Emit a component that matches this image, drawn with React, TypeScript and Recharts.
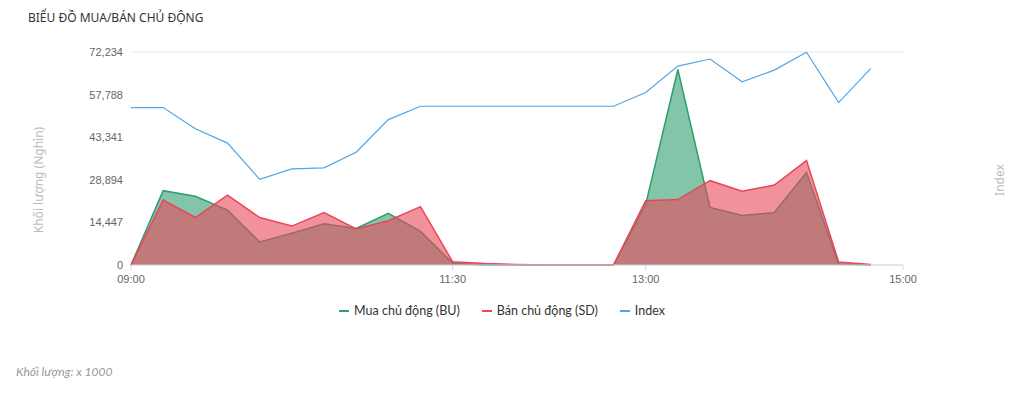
import { Area, CartesianGrid, ComposedChart, Legend, Line, XAxis, YAxis } from "recharts";

const times = [
  "09:00", "09:15", "09:30", "09:45", "10:00", "10:15", "10:30", "10:45",
  "11:00", "11:15", "11:30", "11:45", "12:00", "12:15", "12:30", "12:45",
  "13:00", "13:15", "13:30", "13:45", "14:00", "14:15", "14:30", "14:45",
];
const buyVolume = [
  0, 25200, 23300, 18600, 7800, 10800, 14000, 12400,
  17500, 11400, 600, 0, 0, 0, 0, 0,
  20500, 66300, 19500, 16800, 17800, 31400, 300, 0,
];
const sellVolume = [
  0, 22000, 16100, 23700, 16100, 13200, 17800, 12200,
  15000, 19800, 1100, 500, 200, 0, 0, 0,
  21800, 22200, 28600, 25000, 27100, 35400, 1000, 150,
];
const indexValues = [
  1272.17, 1272.17, 1269.2, 1267.17, 1262.07, 1263.54, 1263.68, 1265.89,
  1270.48, 1272.36, 1272.36, 1272.36, 1272.36, 1272.36, 1272.36, 1272.36,
  1274.3, 1278.02, 1279.01, 1275.8, 1277.45, 1279.96, 1272.88, 1277.69,
];
const volumeTicks = [0, 14447, 28894, 43341, 57788, 72234];
const timeTicks = ["09:00", "11:30", "13:00", "15:00"];
const legendOrder = ["Mua chủ động (BU)", "Bán chủ động (SD)", "Index"];

const toMinutes = (t: string) => {
  const [h, m] = t.split(":").map(Number);
  return (h - 9) * 60 + m;
};
const fromMinutes = (v: number) => {
  const h = 9 + Math.floor(v / 60);
  const m = v % 60;
  return `${String(h).padStart(2, "0")}:${String(m).padStart(2, "0")}`;
};

const data = times.map((t, i) => ({
  t: toMinutes(t),
  bu: buyVolume[i],
  sd: sellVolume[i],
  index: indexValues[i],
}));

const GREEN = "#2e9e6e";
const RED = "#e8475a";
const BLUE = "#4ea6e6";

const renderLegend = (props: any) => {
  const items = [...(props.payload || [])].sort(
    (a: any, b: any) => legendOrder.indexOf(a.value) - legendOrder.indexOf(b.value)
  );
  return (
    <div style={{ display: "flex", justifyContent: "center", gap: 22, fontFamily: "Lato, sans-serif", fontSize: 12.5, color: "#333" }}>
      {items.map((p: any) => (
        <div key={p.value} style={{ display: "flex", alignItems: "center" }}>
          <span style={{ display: "inline-block", width: 10, height: 2, background: p.color, marginRight: 5 }} />
          {p.value}
        </div>
      ))}
    </div>
  );
};

export default function App() {
  return (
    <div style={{ position: "absolute", left: 0, top: 0, width: 1024, height: 393, background: "#fff", fontFamily: "'Noto Sans', sans-serif" }}>
      <div style={{ position: "absolute", left: 28, top: 9, fontSize: 12, color: "#333" }}>
        BIỂU ĐỒ MUA/BÁN CHỦ ĐỘNG
      </div>
      <ComposedChart width={1024} height={318} data={data} margin={{ top: 52, right: 121, left: 71, bottom: 0 }}>
        <CartesianGrid vertical={false} stroke="#e6e6e6" />
        <XAxis
          dataKey="t"
          type="number"
          domain={[0, 360]}
          ticks={timeTicks.map(toMinutes)}
          tickFormatter={fromMinutes}
          stroke="#ccd6eb"
          tickSize={5}
          height={30}
          tick={{ fill: "#666", fontSize: 11, fontFamily: "'Liberation Sans', Arial", dy: 3 }}
        />
        <YAxis
          yAxisId="vol"
          domain={[0, 72234]}
          ticks={volumeTicks}
          width={60}
          axisLine={false}
          tickLine={false}
          tickFormatter={(v) => v.toLocaleString("en-US")}
          tick={{ fill: "#666", fontSize: 11, fontFamily: "'Liberation Sans', Arial" }}
        />
        <YAxis yAxisId="idx" orientation="right" domain={[1250, 1280]} hide />
        <Legend verticalAlign="bottom" wrapperStyle={{ paddingTop: 8, left: 0, width: 1004 }} content={renderLegend} />
        <Area
          yAxisId="vol"
          type="linear"
          dataKey="bu"
          name="Mua chủ động (BU)"
          stroke={GREEN}
          strokeWidth={1.5}
          fill={GREEN}
          fillOpacity={0.6}
          isAnimationActive={false}
        />
        <Area
          yAxisId="vol"
          type="linear"
          dataKey="sd"
          name="Bán chủ động (SD)"
          stroke={RED}
          strokeWidth={1.5}
          fill={RED}
          fillOpacity={0.6}
          isAnimationActive={false}
        />
        <Line
          yAxisId="idx"
          type="linear"
          dataKey="index"
          name="Index"
          stroke={BLUE}
          strokeWidth={1.2}
          dot={false}
          isAnimationActive={false}
        />
      </ComposedChart>
      <div style={{ position: "absolute", left: 38, top: 180, transform: "translate(-50%, -50%) rotate(-90deg)", whiteSpace: "nowrap", fontSize: 12, color: "#bbb" }}>
        Khối lượng (Nghìn)
      </div>
      <div style={{ position: "absolute", left: 999, top: 180, transform: "translate(-50%, -50%) rotate(-90deg)", whiteSpace: "nowrap", fontSize: 12, color: "#bbb" }}>
        Index
      </div>
      <div style={{ position: "absolute", left: 16, top: 364, fontFamily: "Lato, sans-serif", fontSize: 12, fontStyle: "italic", color: "#999" }}>
        Khối lượng: x 1000
      </div>
    </div>
  );
}
